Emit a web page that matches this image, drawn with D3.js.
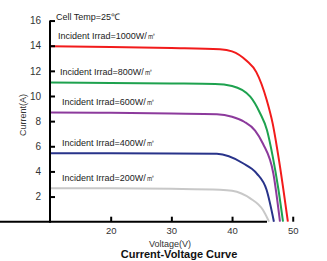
<!DOCTYPE html>
<html lang="en">
<head>
<meta charset="utf-8">
<title>Current-Voltage Curve</title>
<script src="https://d3js.org/d3.v7.min.js"></script>
<style>
  body { margin: 0; background: #fff; }
  text { font-family: "Liberation Sans", Arial, sans-serif; }
</style>
</head>
<body>
<script>
// Irradiance levels and their labels
var irradiance = [1000, 800, 600, 400, 200];
var seriesColors = ["#f21b1b", "#1ea24f", "#8c3a9c", "#28338a", "#c8c8c8"];

// I-V points: [voltage (V), current (A)]
var curve1000 = [[10,13.95],[20,13.9],[30,13.82],[38,13.72],[40,13.55],[42.4,12.8],[44,11.9],[45.7,9.7],[46.7,7.8],[47.8,4.7],[49.2,0]];
var curve800  = [[10,11.07],[20,11.04],[30,11.0],[37.2,10.96],[40,10.8],[43,9.95],[44.6,8.65],[45.75,7.3],[46.7,5.2],[47.6,2.7],[48.4,0]];
var curve600  = [[10,8.68],[20,8.66],[30,8.6],[37.5,8.55],[40,8.35],[42,7.95],[43.8,7.25],[45.1,6.2],[46.8,3.85],[47.9,0]];
var curve400  = [[10,5.45],[20,5.45],[30,5.43],[37.5,5.4],[41.8,4.65],[44.05,3.85],[45.7,2.52],[46.9,0]];
var curve200  = [[10,2.67],[20,2.66],[30,2.62],[38,2.55],[40,2.47],[43,1.86],[45.1,0.93],[46.1,0]];
var curves = [curve1000, curve800, curve600, curve400, curve200];

var xTicks = [20, 30, 40, 50];
var yTicks = [2, 4, 6, 8, 10, 12, 14, 16];

var w = 327, h = 261;

var svg = d3.select("body").append("svg")
    .attr("width", w)
    .attr("height", h);

// scales
var x = d3.scaleLinear().domain([10, 54]).range([50, 317]);
var y = d3.scaleLinear().domain([0, 14]).range([221.7, 45.7]);

// curves
var line = d3.line()
    .x(function(d) { return x(d[0]); })
    .y(function(d) { return y(d[1]); })
    .curve(d3.curveMonotoneX);

svg.selectAll("path.iv")
    .data(curves)
    .enter()
    .append("path")
    .attr("class", "iv")
    .attr("d", line)
    .attr("fill", "none")
    .attr("stroke", function(d, i) { return seriesColors[i]; })
    .attr("stroke-width", 2);

// axes, ticks pointing inwards
var xAxis = d3.axisBottom(x).tickValues(xTicks).tickSizeInner(-5).tickSizeOuter(0).tickPadding(6);
var yAxis = d3.axisLeft(y).tickValues(yTicks).tickSizeInner(-5).tickSizeOuter(0).tickPadding(9);

var gx = svg.append("g").attr("transform", "translate(0," + y(0) + ")").call(xAxis);
var gy = svg.append("g").attr("transform", "translate(" + x(10) + ",0)").call(yAxis);

[gx, gy].forEach(function(g) {
  g.select(".domain").attr("stroke", "#000").attr("stroke-width", 2);
  g.selectAll(".tick line").attr("stroke", "#000").attr("stroke-width", 2);
  g.selectAll(".tick text").attr("fill", "#333").style("font-size", "10px");
});
gx.selectAll(".tick text").style("font-size", "9.5px");
gy.select(".domain").attr("d", "M0," + y(16) + "V" + (y(0) + 1));
gx.select(".domain").attr("d", "M-1,0H" + (x(54) - x(10)));

// series labels
svg.selectAll("text.lbl")
    .data(irradiance)
    .enter()
    .append("text")
    .attr("class", "lbl")
    .attr("x", function(d, i) { return i === 0 ? 58 : (i === 1 ? 60 : 62); })
    .attr("y", function(d, i) { return y(curves[i][0][1]) - 7.5; })
    .attr("fill", "#222")
    .style("font-size", "9px")
    .text(function(d) { return "Incident Irrad=" + d + "W/㎡"; });

svg.append("text")
    .attr("x", 56).attr("y", 20)
    .attr("fill", "#222")
    .style("font-size", "9px")
    .text("Cell Temp=25℃");

// axis titles
svg.append("text")
    .attr("transform", "translate(26,115) rotate(-90)")
    .attr("text-anchor", "middle")
    .attr("fill", "#333")
    .style("font-size", "9px")
    .text("Current(A)");

svg.append("text")
    .attr("x", 170).attr("y", 246.5)
    .attr("text-anchor", "middle")
    .attr("fill", "#333")
    .style("font-size", "9px")
    .text("Voltage(V)");

svg.append("text")
    .attr("x", 179).attr("y", 257.5)
    .attr("text-anchor", "middle")
    .attr("fill", "#111")
    .style("font-size", "11px")
    .style("font-weight", "bold")
    .text("Current-Voltage Curve");
</script>
</body>
</html>
